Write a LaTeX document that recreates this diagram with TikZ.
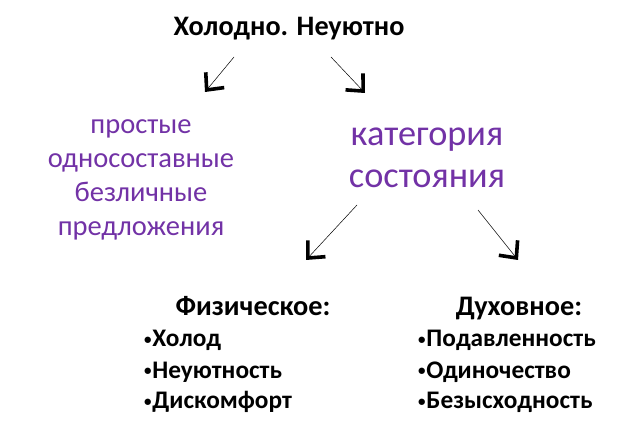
\documentclass[tikz,border=0pt]{standalone}
\usepackage{fontspec}
\setmainfont{Carlito}
\usetikzlibrary{arrows.meta}
\definecolor{vio}{HTML}{7232A6}
\newcommand{\smbul}{{\fontsize{15}{15}\selectfont\raisebox{2pt}{•}}\hspace{1pt}}
\begin{document}
\begin{tikzpicture}[x=1pt,y=-1pt,
  every node/.style={inner sep=0pt, outer sep=0pt},
  ttl/.style={font=\fontsize{28.2}{32}\selectfont\bfseries, anchor=base},
  lft/.style={font=\fontsize{28.5}{32}\selectfont, text=vio, anchor=base},
  cat/.style={font=\fontsize{36.3}{40}\selectfont, text=vio, anchor=base},
  hd/.style={font=\fontsize{28.3}{30}\selectfont\bfseries, anchor=base},
  itm/.style={font=\fontsize{25.3}{28}\selectfont\bfseries, anchor=base west},
  conn/.style={draw=black, line width=0.5pt,
    -{Straight Barb[length=13pt, width=24pt, line width=3.6pt]}}]
\useasboundingbox (0,0) rectangle (625,425);
\node[ttl] (title) at (289,36) {Холодно. Неуютно};
\node[lft] (l1) at (141,134) {простые};
\node[lft] (l2) at (141,168) {односоставные};
\node[lft] (l3) at (141,202) {безличные};
\node[lft] (l4) at (141,236) {предложения};
\node[cat] (c1) at (427,146) {категория};
\node[cat] (c2) at (427,188) {состояния};
\node[hd] (h1) at (253,316) {Физическое:};
\node[itm] (p1) at (144,347) {\smbul Холод};
\node[itm] (p2) at (144,378) {\smbul Неуютность};
\node[itm] (p3) at (144,409) {\smbul Дискомфорт};
\node[hd] (h2) at (519,316) {Духовное:};
\node[itm] (s1) at (418,347) {\smbul Подавленность};
\node[itm] (s2) at (418,378) {\smbul Одиночество};
\node[itm] (s3) at (418,409) {\smbul Безысходность};
\coordinate (a1s) at (234,57);
\coordinate (a1e) at (205,92);
\coordinate (a2s) at (331,57);
\coordinate (a2e) at (365,93);
\coordinate (a3s) at (357,205);
\coordinate (a3e) at (306,260);
\coordinate (a4s) at (478,210);
\coordinate (a4e) at (518,260);
\draw[conn] (a1s) -- (a1e);
\draw[conn] (a2s) -- (a2e);
\draw[conn] (a3s) -- (a3e);
\draw[conn] (a4s) -- (a4e);
\end{tikzpicture}
\end{document}
